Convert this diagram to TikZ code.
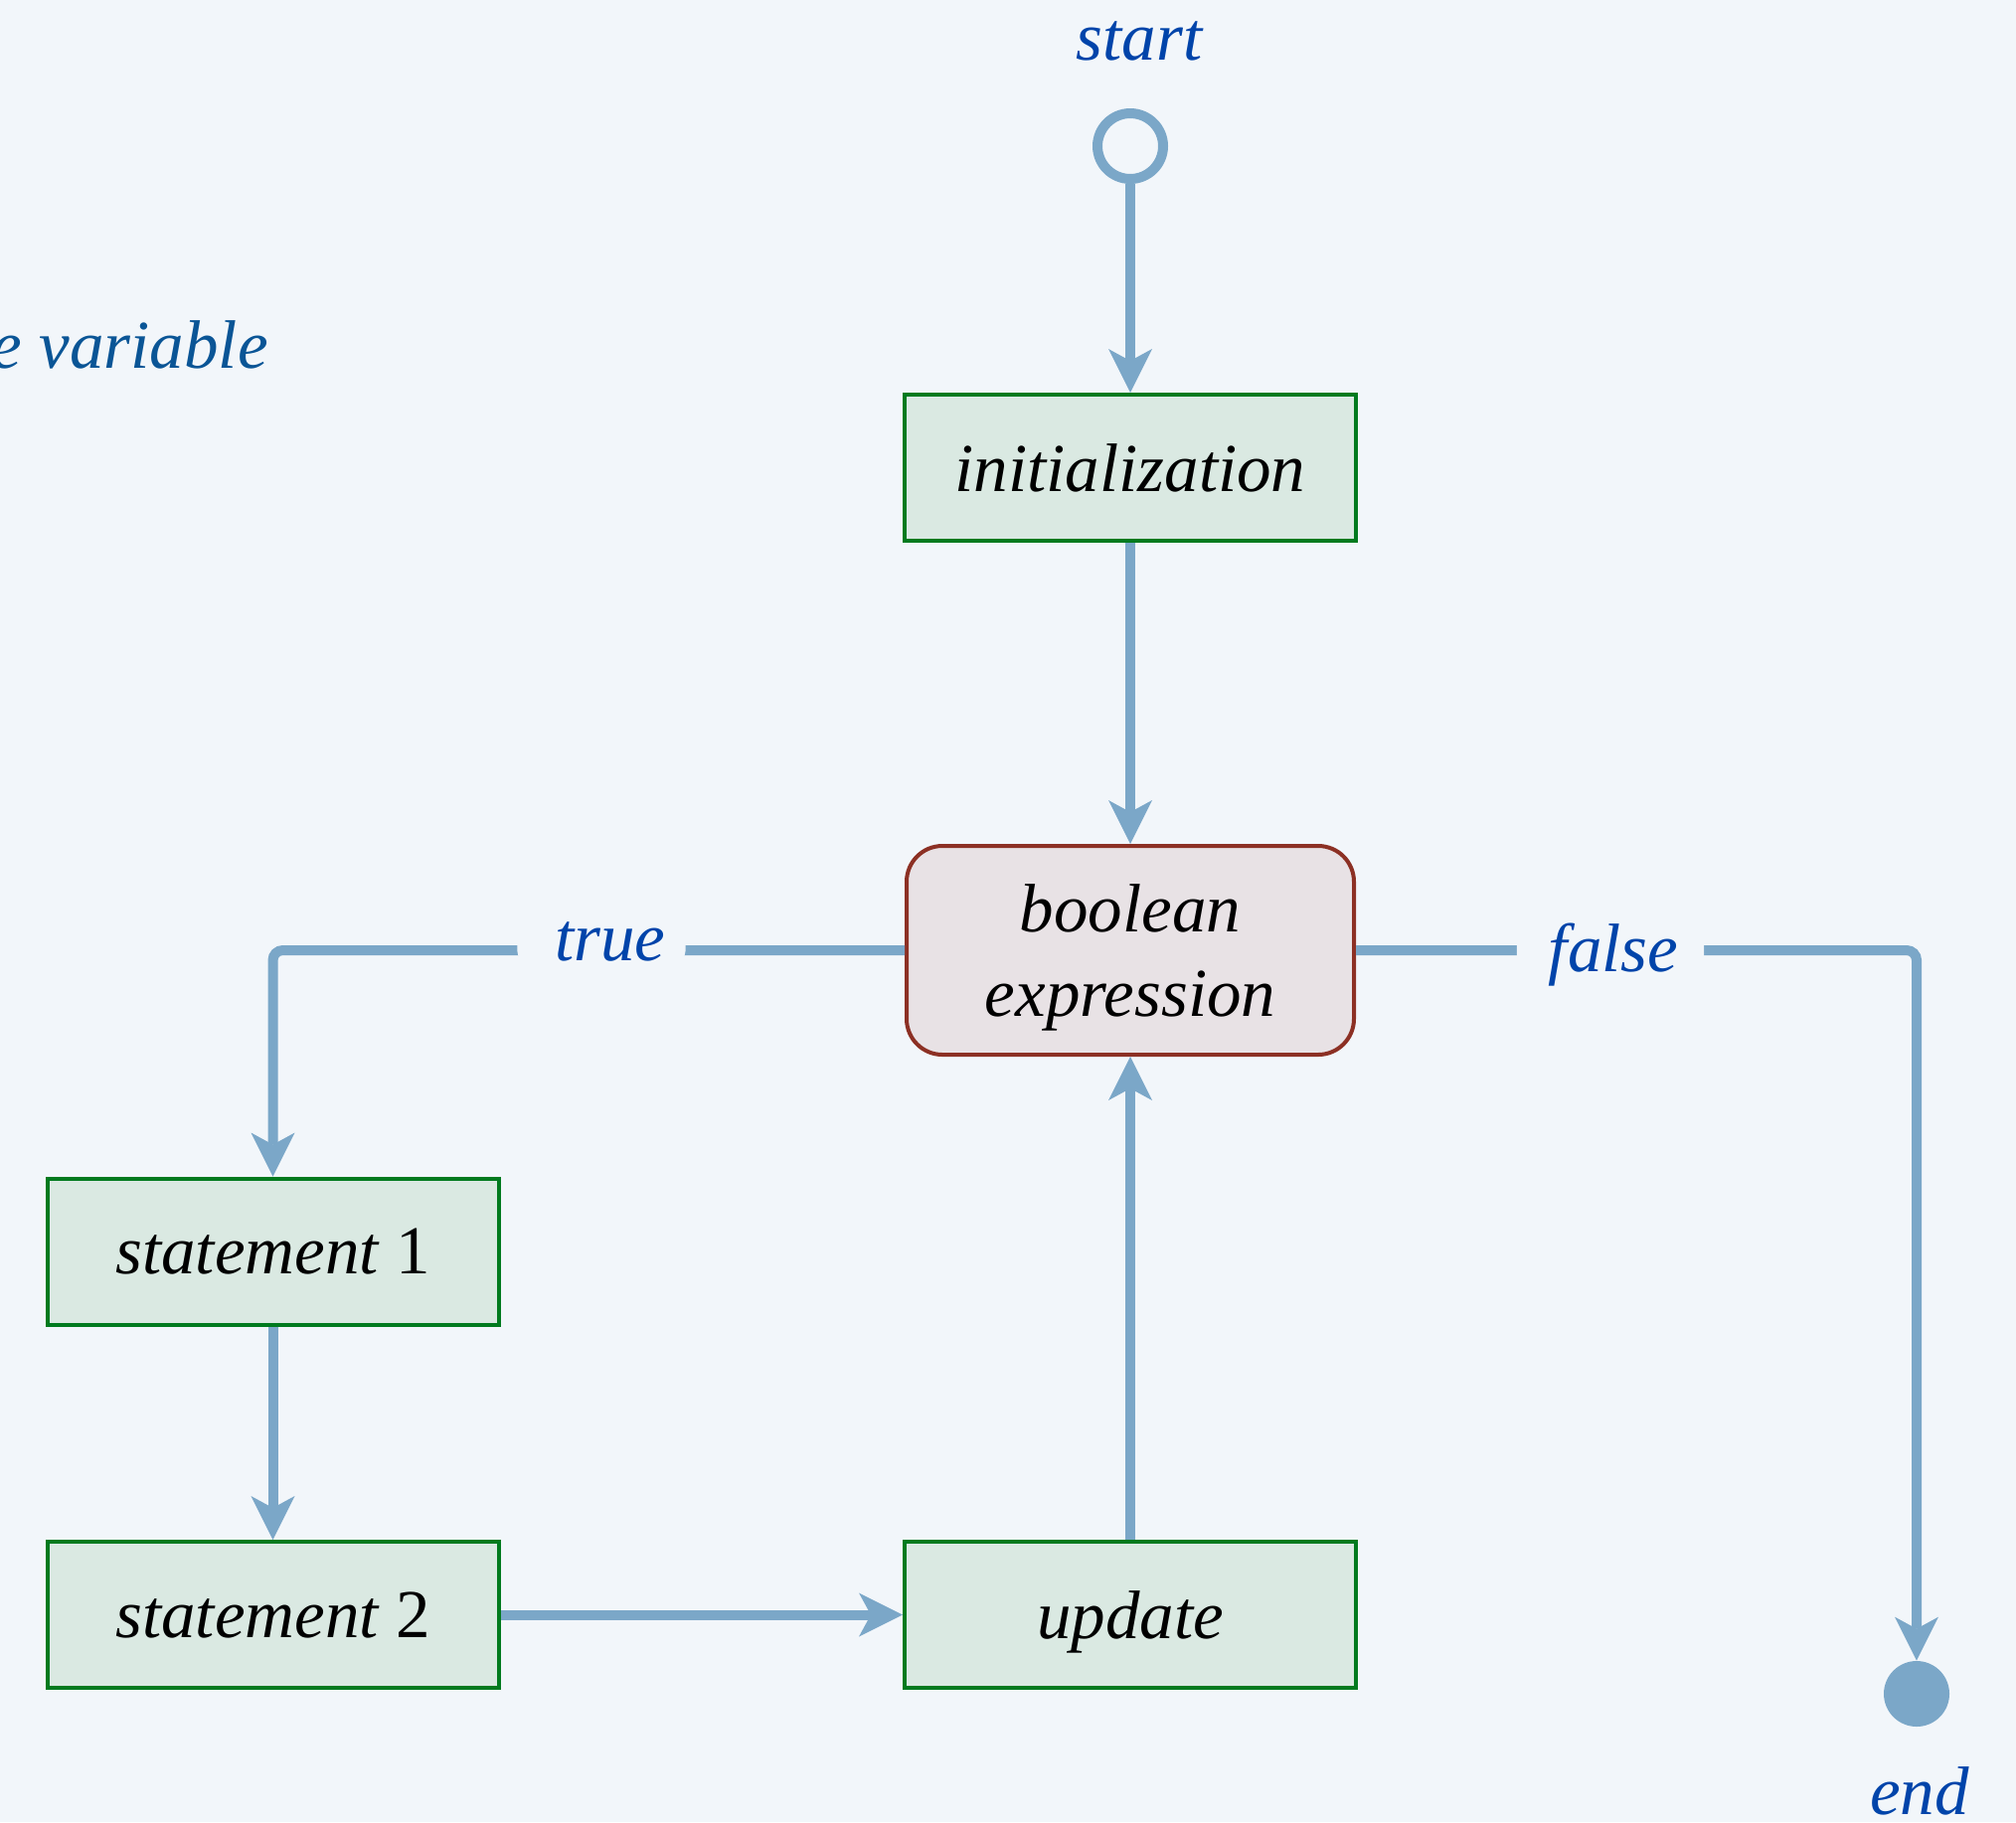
\documentclass[tikz,border=0pt]{standalone}
\usepackage{fontspec}
\setmainfont{Liberation Serif}
\usetikzlibrary{arrows.meta}
\definecolor{bg}{RGB}{242,246,250}
\definecolor{conn}{RGB}{123,167,200}
\definecolor{boxgreen}{RGB}{0,122,30}
\definecolor{boxfill}{RGB}{218,233,226}
\definecolor{condred}{RGB}{140,48,36}
\definecolor{condfill}{RGB}{232,226,229}
\definecolor{lblblue}{RGB}{0,68,170}
\definecolor{varblue}{RGB}{10,85,150}
\begin{document}
\begin{tikzpicture}[x=0.5pt,y=-0.5pt,
  every node/.style={font=\fontsize{34.5pt}{42.5pt}\selectfont\itshape},
  stmtbox/.style={draw=boxgreen, fill=boxfill, line width=2pt, minimum width=227pt, minimum height=73.5pt, inner sep=0pt, text depth=0pt},
  condbox/.style={draw=condred, fill=condfill, line width=2pt, rounded corners=18pt, minimum width=225pt, minimum height=105pt, align=center, inner sep=0pt, text depth=0pt},
  flow/.style={draw=conn, line width=5pt, -{Stealth[length=22pt,width=22pt,inset=6pt,line width=0pt]}},
  lbl/.style={text=lblblue, fill=bg, inner ysep=0pt, anchor=base},
]
\fill[bg] (0,0) rectangle (2028,1833);
\useasboundingbox (0,0) rectangle (2028,1833);

\node[circle, draw=conn, line width=5pt, minimum size=33pt, inner sep=0pt] (start) at (1137,147) {};
\node[text=lblblue, anchor=base, inner sep=0pt] (starttxt) at (1146,60) {start};
\node[stmtbox] (init) at (1137,470.5) {initialization};
\node[condbox] (cond) at (1137,956) {boolean\\expression};
\node[stmtbox] (s1) at (274.5,1259) {statement \upshape 1};
\node[stmtbox] (s2) at (274.5,1624.5) {statement \upshape 2};
\node[stmtbox] (upd) at (1137,1624.5) {update};
\node[circle, fill=conn, minimum size=33pt, inner sep=0pt] (end) at (1928,1704) {};
\node[text=lblblue, anchor=base, inner sep=0pt] (endtxt) at (1931,1825) {end};
\node[text=varblue, anchor=base east, inner sep=0pt] (var) at (270,370) {e variable};

\draw[flow] (start.south) -- (init.north);
\draw[flow] (init.south) -- (cond.north);
\draw[flow] (upd.north) -- (cond.south);
\draw[flow] (s1.south) -- (s2.north);
\draw[flow] (s2.east) -- (upd.west);
\draw[flow, rounded corners=5pt] (cond.west) -| node[lbl, inner xsep=10pt, pos=0.24, yshift=-5pt] (ltrue) {\hspace*{9pt}true} (s1.north);
\draw[flow, rounded corners=5pt] (cond.east) -| node[lbl, inner xsep=13pt, pos=0.227, yshift=-10.5pt] (lfalse) {\hspace*{3pt}false} (end.north);
\end{tikzpicture}
\end{document}
